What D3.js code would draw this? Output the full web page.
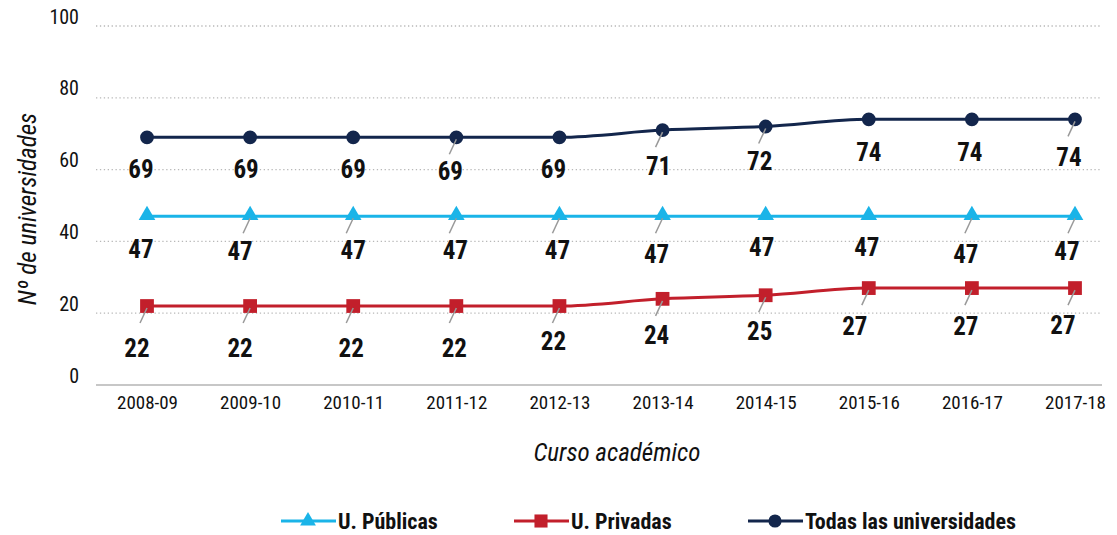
<!DOCTYPE html>
<head>
<meta charset="utf-8">
<script src="https://cdn.jsdelivr.net/npm/d3@7"></script>
<style>
  body { margin: 0; background: #fff; }
  svg text { font-family: "Liberation Sans Narrow", "Roboto Condensed", "DejaVu Sans Condensed", sans-serif; fill: #111; }
</style>
</head>
<body>
<svg width="1117" height="535"></svg>
<script>
var cursos = ['2008-09', '2009-10', '2010-11', '2011-12', '2012-13', '2013-14', '2014-15', '2015-16', '2016-17', '2017-18']
var publicas = [47, 47, 47, 47, 47, 47, 47, 47, 47, 47]
var privadas = [22, 22, 22, 22, 22, 24, 25, 27, 27, 27]
var todas = [69, 69, 69, 69, 69, 71, 72, 74, 74, 74]
var yTicks = [0, 20, 40, 60, 80, 100]

// label offsets [dx, dy] and which labels have a leader line
var series = [
  { name: 'U. Públicas', values: publicas, color: '#1ab4e8', symbol: d3.symbolTriangle, size: 120,
    lab: [[-6, 33], [-10, 35], [0, 34], [-1, 34], [-2, 34], [-6, 38], [-4, 31], [-2, 31], [-6, 38], [-8, 35]],
    leader: [0, 1, 1, 1, 1, 1, 0, 0, 1, 1] },
  { name: 'U. Privadas', values: privadas, color: '#c21f2b', symbol: d3.symbolSquare, size: 190,
    lab: [[-10, 42], [-10, 42], [-2, 42], [-2, 42], [-6, 35], [-6, 36], [-6, 36], [-14, 38], [-6, 38], [-12, 37]],
    leader: [1, 1, 1, 1, 1, 1, 1, 1, 1, 1] },
  { name: 'Todas las universidades', values: todas, color: '#13264c', symbol: d3.symbolCircle, size: 150,
    lab: [[-6, 32], [-4, 32], [0, 32], [-6, 34], [-6, 32], [-4, 36], [-6, 35], [0, 33], [-2, 33], [-6, 38]],
    leader: [0, 0, 0, 1, 0, 1, 1, 0, 0, 1] }
]

var svg = d3.select('svg')
var x = d3.scalePoint().domain(cursos).range([147, 1075])
var y = d3.scaleLinear().domain([0, 100]).range([385, 26])

// grid
svg.append('g').selectAll('line').data(yTicks.filter(function (d) { return d > 0 }))
  .enter().append('line')
  .attr('x1', 96).attr('x2', 1102)
  .attr('y1', y).attr('y2', y)
  .attr('stroke', '#b8b8b8').attr('stroke-width', 1.3).attr('stroke-dasharray', '1.3,2.6')

svg.append('line').attr('x1', 96).attr('x2', 1102).attr('y1', y(0)).attr('y2', y(0))
  .attr('stroke', '#b5b5b5').attr('stroke-width', 1.5)

var yAxis = svg.append('g').attr('transform', 'translate(79,0)')
  .call(d3.axisLeft(y).tickValues(yTicks).tickSize(0).tickPadding(0))
yAxis.select('.domain').remove()
yAxis.selectAll('text').style('font-size', '20px').attr('dy', '-0.15em')

var xAxis = svg.append('g').attr('transform', 'translate(0,' + y(0) + ')')
  .call(d3.axisBottom(x).tickSize(0).tickPadding(11))
xAxis.select('.domain').remove()
xAxis.selectAll('text').style('font-size', '19px')

svg.append('text').attr('transform', 'translate(36,209) rotate(-90)')
  .attr('text-anchor', 'middle').style('font-size', '25px').style('font-style', 'italic')
  .text('Nº de universidades')
svg.append('text').attr('x', 617).attr('y', 461)
  .attr('text-anchor', 'middle').style('font-size', '25px').style('font-style', 'italic')
  .text('Curso académico')

var line = d3.line().x(function (d) { return x(d.c) }).y(function (d) { return y(d.v) })
  .curve(d3.curveMonotoneX)

series.forEach(function (s) {
  var pts = s.values.map(function (v, i) { return { c: cursos[i], v: v, i: i } })
  var g = svg.append('g')
  g.append('path').datum(pts).attr('d', line)
    .attr('fill', 'none').attr('stroke', s.color).attr('stroke-width', 3)
  g.selectAll('path.m').data(pts).enter().append('path').attr('class', 'm')
    .attr('d', d3.symbol().type(s.symbol).size(s.size))
    .attr('transform', function (d) { return 'translate(' + x(d.c) + ',' + (y(d.v) + (s.symbol === d3.symbolTriangle ? -1 : 0)) + ')' })
    .attr('fill', s.color)
  g.selectAll('line.ld').data(pts.filter(function (d) { return s.leader[d.i] }))
    .enter().append('line').attr('class', 'ld')
    .attr('x1', function (d) { return x(d.c) })
    .attr('y1', function (d) { return y(d.v) + 2 })
    .attr('x2', function (d) { return x(d.c) - 7 })
    .attr('y2', function (d) { return y(d.v) + 17 })
    .attr('stroke', '#999').attr('stroke-width', 1.5)
  g.selectAll('text').data(pts).enter().append('text')
    .attr('x', function (d) { return x(d.c) + s.lab[d.i][0] })
    .attr('y', function (d) { return y(d.v) + s.lab[d.i][1] })
    .attr('dy', '0.35em').attr('text-anchor', 'middle')
    .style('font-size', '25px').style('font-weight', 'bold')
    .text(function (d) { return d.v })
})

// legend
var leg = svg.append('g').selectAll('g').data(series).enter().append('g')
  .attr('transform', function (d, i) { return 'translate(' + [281, 514, 748][i] + ',521)' })
leg.append('line').attr('x1', 0).attr('x2', 55).attr('stroke', function (d) { return d.color }).attr('stroke-width', 3)
leg.append('path').attr('d', function (d) { return d3.symbol().type(d.symbol).size(d.size * 0.9)() })
  .attr('transform', 'translate(27,0)').attr('fill', function (d) { return d.color })
leg.append('text').attr('x', 57).attr('dy', '0.35em')
  .style('font-size', '22px').style('font-weight', 'bold')
  .text(function (d) { return d.name })
</script>
</body>
